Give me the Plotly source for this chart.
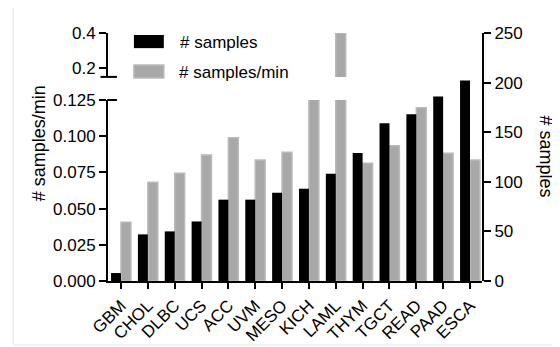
import plotly.graph_objects as go

categories = ["GBM", "CHOL", "DLBC", "UCS", "ACC", "UVM", "MESO", "KICH",
              "LAML", "THYM", "TGCT", "READ", "PAAD", "ESCA"]
n_samples = [8, 47, 50, 60, 82, 82, 89, 93, 108, 129, 159, 168, 186, 202]
samples_per_min = [0.0405, 0.0682, 0.0744, 0.087, 0.099, 0.0836, 0.089, 0.14,
                   0.40, 0.0813, 0.0934, 0.1197, 0.0882, 0.0836]

lower_ticks = [0, 0.025, 0.05, 0.075, 0.1, 0.125]
upper_ticks = [0.2, 0.4]
right_ticks = [0, 50, 100, 150, 200, 250]

FONT = "Liberation Sans, Arial, sans-serif"
GRAY = "#a8a8a8"
GRAY_EDGE = "#bababa"
xpos = list(range(len(categories)))

fig = go.Figure()
fig.add_trace(go.Bar(x=xpos, y=n_samples, name="# samples", xaxis="x", yaxis="y2",
                     marker=dict(color="black", line=dict(width=0)),
                     width=0.37, offset=-0.37, showlegend=False))
fig.add_trace(go.Bar(x=xpos, y=samples_per_min, name="# samples/min", xaxis="x", yaxis="y",
                     marker=dict(color=GRAY, line=dict(color=GRAY_EDGE, width=1.5)),
                     width=0.37, offset=0.0, showlegend=False))
fig.add_trace(go.Bar(x=xpos, y=samples_per_min, name="# samples/min", xaxis="x", yaxis="y3",
                     marker=dict(color=GRAY, line=dict(color=GRAY_EDGE, width=1.5)),
                     width=0.37, offset=0.0, showlegend=False))

axis_common = dict(showline=True, linecolor="black", linewidth=2, ticks="outside",
                   ticklen=7, tickwidth=2, tickcolor="black", showgrid=False,
                   zeroline=False, automargin=False,
                   tickfont=dict(family=FONT, size=17, color="black"))

# page body has an 8px margin; the figure is sized to fill the window after it
fig.update_layout(
    template="none",
    width=552, height=339,
    margin=dict(l=100, r=78, t=25, b=66),
    paper_bgcolor="white", plot_bgcolor="rgba(0,0,0,0)",
    font=dict(family=FONT, size=17, color="black"),
    xaxis=dict(domain=[0, 1], range=[-0.484, 13.447], anchor="y",
               tickvals=xpos, ticktext=categories, tickangle=-45,
               **{**axis_common, "tickfont": dict(family=FONT, size=17, color="black"),
                  "ticklen": 6}),
    yaxis=dict(domain=[0, 0.7298], range=[0, 0.125], anchor="x",
               tickvals=lower_ticks, tickformat=".3f", **axis_common),
    yaxis3=dict(domain=[0.823, 1], range=[0.1486, 0.4], anchor="x",
                tickvals=upper_ticks, tickformat=".1f", **axis_common),
    yaxis2=dict(domain=[0, 1], range=[0, 250], anchor="x", side="right",
                tickvals=right_ticks, **axis_common),
    showlegend=False,
)

shapes = []
# axis break caps
for yv in [0.7298, 0.823]:
    shapes.append(dict(type="line", xref="paper", yref="paper", x0=-0.002, x1=0.024,
                       y0=yv, y1=yv, line=dict(color="black", width=2)))
shapes.append(dict(type="line", xref="paper", yref="paper", x0=-0.02, x1=0.0,
                   y0=0.823, y1=0.823, line=dict(color="black", width=2)))
# legend swatches
shapes.append(dict(type="rect", xref="paper", yref="paper", x0=0.0693, x1=0.1493,
                   y0=0.939, y1=0.992, fillcolor="black", line=dict(width=0)))
shapes.append(dict(type="rect", xref="paper", yref="paper", x0=0.0693, x1=0.1493,
                   y0=0.8185, y1=0.871, fillcolor=GRAY, line=dict(color=GRAY_EDGE, width=1.5)))
# faint frame
shapes.append(dict(type="rect", xref="paper", yref="paper", x0=-0.2533, x1=1.4,
                   y0=-0.258, y1=1.2, line=dict(color="#e6e6e6", width=1),
                   fillcolor="rgba(0,0,0,0)", layer="below"))
fig.update_layout(shapes=shapes)

fig.update_layout(annotations=[
    dict(text="# samples", xref="paper", yref="paper", x=0.188, y=0.962,
         xanchor="left", yanchor="middle", showarrow=False, font=dict(size=17)),
    dict(text="# samples/min", xref="paper", yref="paper", x=0.185, y=0.842,
         xanchor="left", yanchor="middle", showarrow=False, font=dict(size=17)),
    dict(text="# samples/min", xref="paper", yref="paper", x=-0.184, y=0.556,
         xanchor="center", yanchor="middle", textangle=-90, showarrow=False,
         font=dict(size=18)),
    dict(text="# samples", xref="paper", yref="paper", x=1.17, y=0.504,
         xanchor="center", yanchor="middle", textangle=90, showarrow=False,
         font=dict(size=18)),
])

fig.write_html("out.html")
